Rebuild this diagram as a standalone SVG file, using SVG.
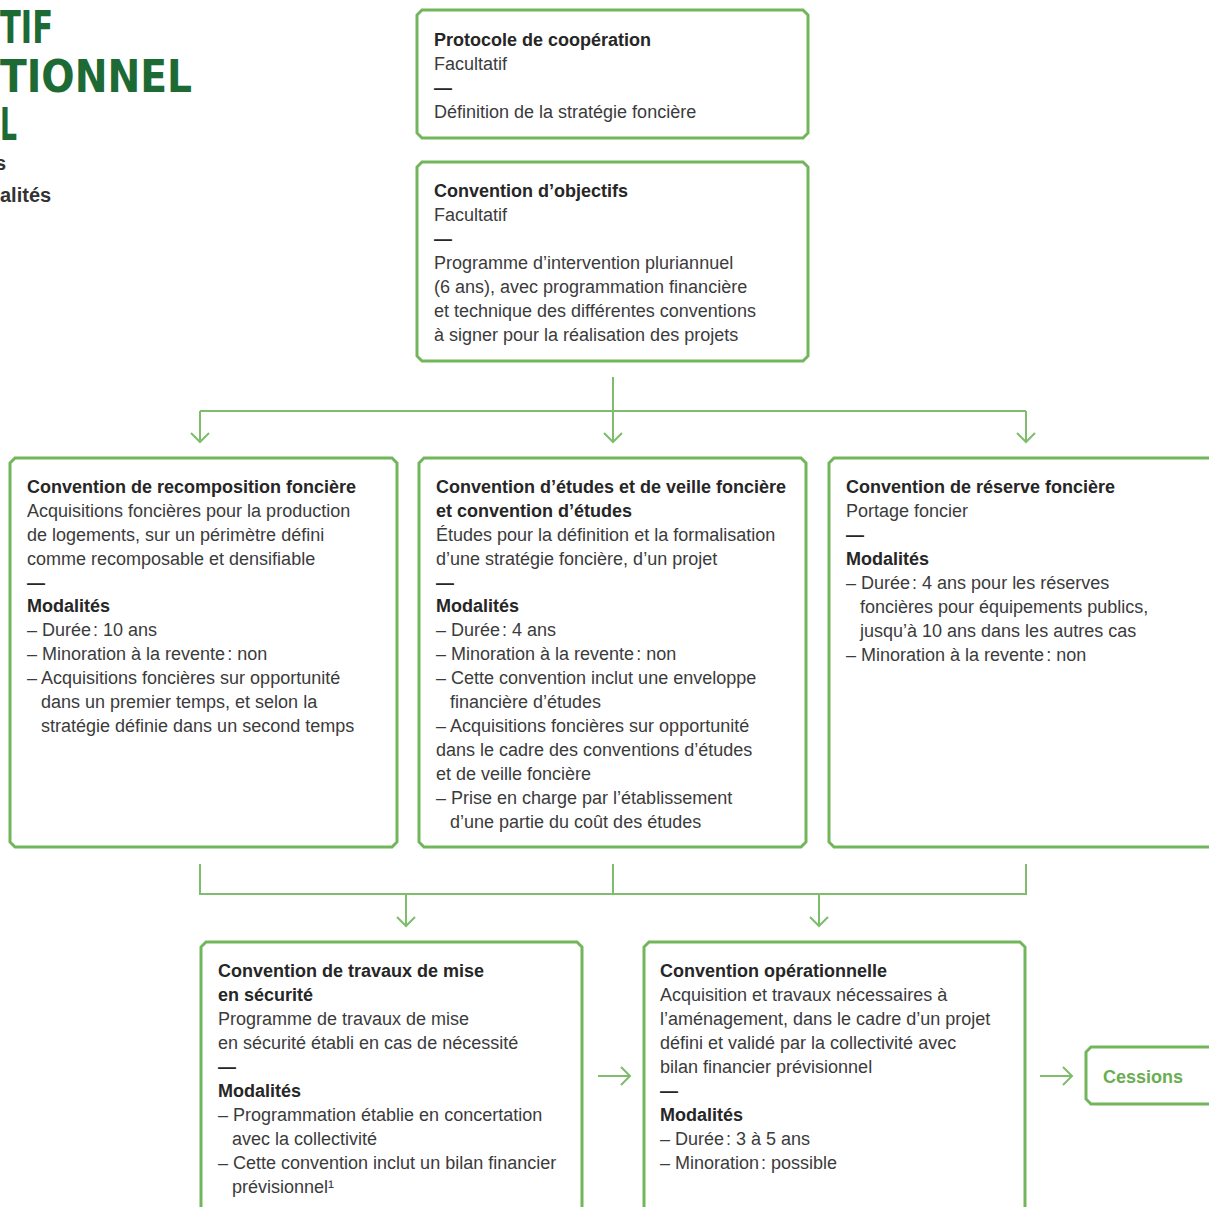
<svg xmlns="http://www.w3.org/2000/svg" width="1209" height="1207" viewBox="0 0 1209 1207">
<style>
.box{fill:#fff;stroke:#72b65c;stroke-width:3}
.conn{fill:none;stroke:#7dbd6b;stroke-width:2}
text{font-family:"Liberation Sans",Arial,sans-serif;font-size:18px;fill:#3b3b3b}
.b{font-weight:bold;fill:#262626}
.d{font-weight:bold;fill:#262626}
.big{font-family:"DejaVu Sans","Liberation Sans",sans-serif;font-weight:bold;font-size:44px;fill:#1e6a35;font-stretch:condensed}
.sub{font-weight:bold;font-size:20px;fill:#333}
.g{font-weight:bold;fill:#6aae52}
</style>
<defs>
<marker id="arr" viewBox="-12 -12 24 24" markerWidth="24" markerHeight="24" refX="0" refY="0" orient="auto" markerUnits="userSpaceOnUse">
<path d="M-9,-9 L0,0 L-9,9" fill="none" stroke="#7dbd6b" stroke-width="2"/>
</marker>
</defs>
<rect width="1209" height="1207" fill="#fff"/>

<g id="title">
<text class="big" x="0" y="43" textLength="53" lengthAdjust="spacingAndGlyphs">TIF</text>
<text class="big" x="0" y="92" textLength="192" lengthAdjust="spacingAndGlyphs">TIONNEL</text>
<text class="big" x="0" y="140" textLength="17" lengthAdjust="spacingAndGlyphs">L</text>
<text class="sub" x="-5" y="170">s</text>
<text class="sub" x="0" y="202">alités</text>
</g>

<g id="connectors">
<path class="conn" d="M613,377 V442" marker-end="url(#arr)"/>
<path class="conn" d="M200,411 H1026"/>
<path class="conn" d="M200,411 V442" marker-end="url(#arr)"/>
<path class="conn" d="M1026,411 V442" marker-end="url(#arr)"/>
<path class="conn" d="M200,864 V894 H1026 V864 M613,864 V894"/>
<path class="conn" d="M406,894 V926" marker-end="url(#arr)"/>
<path class="conn" d="M819,894 V926" marker-end="url(#arr)"/>
<path class="conn" d="M598,1076 H630" marker-end="url(#arr)"/>
<path class="conn" d="M1040,1076 H1072" marker-end="url(#arr)"/>
</g>

<g id="protocole">
<path class="box" d="M422,10 H803 L808,15 V133 L803,138 H422 L417,133 V15 Z"/>
<text class="b" x="434" y="46">Protocole de coopération</text>
<text x="434" y="70">Facultatif</text>
<text class="d" x="434" y="94">—</text>
<text x="434" y="118">Définition de la stratégie foncière</text>
</g>

<g id="objectifs">
<path class="box" d="M422,162 H803 L808,167 V356 L803,361 H422 L417,356 V167 Z"/>
<text class="b" x="434" y="197">Convention d’objectifs</text>
<text x="434" y="221">Facultatif</text>
<text class="d" x="434" y="245">—</text>
<text x="434" y="269">Programme d’intervention pluriannuel</text>
<text x="434" y="293">(6 ans), avec programmation financière</text>
<text x="434" y="317">et technique des différentes conventions</text>
<text x="434" y="341">à signer pour la réalisation des projets</text>
</g>

<g id="recomposition">
<path class="box" d="M15,458 H392 L397,463 V842 L392,847 H15 L10,842 V463 Z"/>
<text class="b" x="27" y="493">Convention de recomposition foncière</text>
<text x="27" y="517">Acquisitions foncières pour la production</text>
<text x="27" y="541">de logements, sur un périmètre défini</text>
<text x="27" y="565">comme recomposable et densifiable</text>
<text class="d" x="27" y="589">—</text>
<text class="b" x="27" y="612">Modalités</text>
<text x="27" y="636">– Durée<tspan dx="2">:</tspan> 10 ans</text>
<text x="27" y="660">– Minoration à la revente<tspan dx="2">:</tspan> non</text>
<text x="27" y="684">– Acquisitions foncières sur opportunité</text>
<text x="41" y="708">dans un premier temps, et selon la</text>
<text x="41" y="732">stratégie définie dans un second temps</text>
</g>

<g id="etudes">
<path class="box" d="M424,458 H801 L806,463 V842 L801,847 H424 L419,842 V463 Z"/>
<text class="b" x="436" y="493">Convention d’études et de veille foncière</text>
<text class="b" x="436" y="517">et convention d’études</text>
<text x="436" y="541">Études pour la définition et la formalisation</text>
<text x="436" y="565">d’une stratégie foncière, d’un projet</text>
<text class="d" x="436" y="589">—</text>
<text class="b" x="436" y="612">Modalités</text>
<text x="436" y="636">– Durée<tspan dx="2">:</tspan> 4 ans</text>
<text x="436" y="660">– Minoration à la revente<tspan dx="2">:</tspan> non</text>
<text x="436" y="684">– Cette convention inclut une enveloppe</text>
<text x="450" y="708">financière d’études</text>
<text x="436" y="732">– Acquisitions foncières sur opportunité</text>
<text x="436" y="756">dans le cadre des conventions d’études</text>
<text x="436" y="780">et de veille foncière</text>
<text x="436" y="804">– Prise en charge par l’établissement</text>
<text x="450" y="828">d’une partie du coût des études</text>
</g>

<g id="reserve">
<path class="box" d="M834,458 H1215 L1220,463 V842 L1215,847 H834 L829,842 V463 Z"/>
<text class="b" x="846" y="493">Convention de réserve foncière</text>
<text x="846" y="517">Portage foncier</text>
<text class="d" x="846" y="541">—</text>
<text class="b" x="846" y="565">Modalités</text>
<text x="846" y="589">– Durée<tspan dx="2">:</tspan> 4 ans pour les réserves</text>
<text x="860" y="613">foncières pour équipements publics,</text>
<text x="860" y="637">jusqu’à 10 ans dans les autres cas</text>
<text x="846" y="661">– Minoration à la revente<tspan dx="2">:</tspan> non</text>
</g>

<g id="travaux">
<path class="box" d="M206,942 H577 L582,947 V1215 L577,1220 H206 L201,1215 V947 Z"/>
<text class="b" x="218" y="977">Convention de travaux de mise</text>
<text class="b" x="218" y="1001">en sécurité</text>
<text x="218" y="1025">Programme de travaux de mise</text>
<text x="218" y="1049">en sécurité établi en cas de nécessité</text>
<text class="d" x="218" y="1073">—</text>
<text class="b" x="218" y="1097">Modalités</text>
<text x="218" y="1121">– Programmation établie en concertation</text>
<text x="232" y="1145">avec la collectivité</text>
<text x="218" y="1169">– Cette convention inclut un bilan financier</text>
<text x="232" y="1193">prévisionnel¹</text>
</g>

<g id="operationnelle">
<path class="box" d="M649,942 H1020 L1025,947 V1215 L1020,1220 H649 L644,1215 V947 Z"/>
<text class="b" x="660" y="977">Convention opérationnelle</text>
<text x="660" y="1001">Acquisition et travaux nécessaires à</text>
<text x="660" y="1025">l’aménagement, dans le cadre d’un projet</text>
<text x="660" y="1049">défini et validé par la collectivité avec</text>
<text x="660" y="1073">bilan financier prévisionnel</text>
<text class="d" x="660" y="1097">—</text>
<text class="b" x="660" y="1121">Modalités</text>
<text x="660" y="1145">– Durée<tspan dx="2">:</tspan> 3 à 5 ans</text>
<text x="660" y="1169">– Minoration<tspan dx="2">:</tspan> possible</text>
</g>

<g id="cessions">
<path class="box" d="M1091,1047 H1215 L1220,1052 V1099 L1215,1104 H1091 L1086,1099 V1052 Z"/>
<text class="g" x="1103" y="1083">Cessions</text>
</g>
</svg>
